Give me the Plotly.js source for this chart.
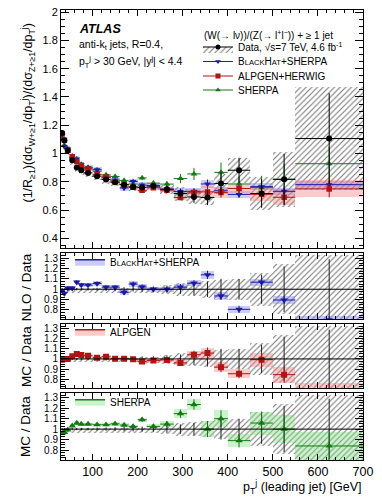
<!DOCTYPE html>
<html><head><meta charset="utf-8">
<script src="https://cdn.plot.ly/plotly-3.0.1.min.js"></script>
<style>html,body{margin:0;padding:0;background:#fff}#chart{width:382px;height:499px}</style>
</head><body><div id="chart"></div>
<script>
// ---- data ----
const binCenter = [32.5,37.5,45,55,65,75,90,110,130,150,170,190,210,235,265,295,325,355,385,425,475,525,625];
const binHalf   = [2.5,2.5,5,5,5,5,10,10,10,10,10,10,10,15,15,15,15,15,15,25,25,25,75];

const dataVal   = [1.146,1.094,1.023,0.953,0.901,0.882,0.863,0.840,0.816,0.797,0.780,0.764,0.760,0.771,0.748,0.717,0.693,0.689,0.788,0.882,0.717,0.818,1.106];
const dataStatRel = [0.01,0.01,0.01,0.01,0.01,0.012,0.012,0.014,0.016,0.018,0.02,0.022,0.025,0.025,0.035,0.045,0.06,0.075,0.1,0.1,0.14,0.22,0.29];
const dataSysUpRel = [0.01,0.01,0.01,0.01,0.01,0.01,0.01,0.01,0.01,0.01,0.01,0.01,0.015,0.02,0.04,0.06,0.07,0.08,0.09,0.1,0.16,0.24,0.33];
const dataSysDnRel = [0.03,0.03,0.035,0.035,0.035,0.035,0.035,0.035,0.035,0.035,0.035,0.035,0.04,0.04,0.05,0.07,0.07,0.08,0.09,0.1,0.16,0.24,0.33];

const bhMain  = [1.129,1.050,1.033,0.963,0.962,0.919,0.898,0.886,0.832,0.813,0.757,0.802,0.777,0.771,0.748,0.731,0.733,0.785,0.737,0.711,0.766,0.733,0.780];
const alpMain = [1.138,1.094,1.023,0.978,0.944,0.916,0.891,0.851,0.834,0.800,0.782,0.762,0.740,0.759,0.741,0.689,0.722,0.729,0.724,0.753,0.712,0.691,0.750];
const shMain  = [1.101,1.061,1.016,0.983,0.953,0.924,0.904,0.875,0.850,0.838,0.810,0.784,0.828,0.791,0.784,0.823,0.856,0.689,0.867,0.785,0.759,0.818,0.928];

const bhRatio  = [0.985,0.960,1.010,1.010,1.068,1.042,1.040,1.055,1.020,1.020,0.970,1.050,1.022,1.000,1.000,1.020,1.058,1.139,0.935,0.806,1.068,0.896,0.705];
const alpRatio = [0.993,1.000,1.000,1.026,1.048,1.038,1.032,1.013,1.022,1.003,1.003,0.997,0.974,0.984,0.990,0.961,1.042,1.058,0.919,0.854,0.993,0.845,0.678];
const shRatio  = [0.961,0.970,0.993,1.032,1.058,1.048,1.048,1.042,1.042,1.051,1.039,1.026,1.090,1.026,1.048,1.148,1.235,1.000,1.100,0.890,1.058,1.000,0.839];

const bhBandRel  = [0.02,0.02,0.02,0.02,0.02,0.02,0.02,0.02,0.02,0.02,0.025,0.025,0.025,0.025,0.025,0.03,0.03,0.04,0.035,0.035,0.035,0.035,0.035];
const alpBandRel = [0.015,0.015,0.015,0.015,0.015,0.015,0.015,0.015,0.015,0.015,0.015,0.015,0.02,0.02,0.02,0.025,0.04,0.055,0.05,0.045,0.07,0.08,0.08];
const shBandRel  = [0.015,0.015,0.015,0.015,0.015,0.015,0.015,0.015,0.015,0.015,0.015,0.015,0.02,0.02,0.025,0.04,0.05,0.077,0.08,0.065,0.11,0.135,0.13];

const xTickVals = [100,200,300,400,500,600,700];

// ---- styling ----
const FONT = 'Liberation Sans, Arial, Helvetica, sans-serif';
const C_BH = '#1a1aa6', C_BH_BAND = 'rgba(120,120,240,0.38)';
const C_AL = '#b01414', C_AL_BAND = 'rgba(245,120,120,0.38)';
const C_SH = '#147814', C_SH_BAND = 'rgba(120,225,120,0.38)';
const HATCH = {shape:'/', fgcolor:'#7a7a7a', bgcolor:'rgba(0,0,0,0)', size:4, solidity:0.28, fillmode:'replace'};
const width = binHalf.map(h => 2*h);

function hatchBars(xa, ya, lo, hi) {
  return {type:'bar', xaxis:xa, yaxis:ya, x:binCenter, width:width, base:lo,
    y:hi.map((v,i)=>v-lo[i]), marker:{color:'rgba(0,0,0,0)', line:{width:0}, pattern:HATCH},
    showlegend:false, hoverinfo:'skip'};
}
function bandBars(xa, ya, val, rel, color) {
  return {type:'bar', xaxis:xa, yaxis:ya, x:binCenter, width:width,
    base:val.map((v,i)=>v*(1-rel[i])), y:val.map((v,i)=>2*v*rel[i]),
    marker:{color:color, line:{width:0}}, showlegend:false, hoverinfo:'skip'};
}
function points(xa, ya, val, errAbs, color, symbol, size) {
  return {type:'scatter', mode:'markers', xaxis:xa, yaxis:ya, x:binCenter, y:val,
    marker:{symbol:symbol, size:size, color:color},
    error_x:{type:'data', array:binHalf, color:color, thickness:1, width:0},
    error_y:{type:'data', array:errAbs, color:color, thickness:1, width:0},
    showlegend:false, hoverinfo:'skip'};
}
const abs = (val, rel) => val.map((v,i)=>v*rel[i]);

const traces = [];
// main panel
traces.push(hatchBars('x','y', dataVal.map((v,i)=>v*(1-dataSysDnRel[i])), dataVal.map((v,i)=>v*(1+dataSysUpRel[i]))));
traces.push(bandBars('x','y', bhMain, bhBandRel, C_BH_BAND));
traces.push(bandBars('x','y', alpMain, alpBandRel, C_AL_BAND));
traces.push(points('x','y', shMain, abs(shMain, shBandRel), C_SH, 'triangle-up', 6));
traces.push(points('x','y', bhMain, abs(bhMain, bhBandRel), C_BH, 'triangle-down', 6));
traces.push(points('x','y', alpMain, abs(alpMain, alpBandRel), C_AL, 'square', 5.5));
traces.push(points('x','y', dataVal, abs(dataVal, dataStatRel), 'black', 'circle', 6));

// ratio panels
const unity = binCenter.map(() => 1);
const ratioPanels = [
  ['x2','y2', bhRatio, bhBandRel, C_BH, C_BH_BAND, 'triangle-down', 6.5],
  ['x3','y3', alpRatio, alpBandRel, C_AL, C_AL_BAND, 'square', 6],
  ['x4','y4', shRatio, shBandRel, C_SH, C_SH_BAND, 'triangle-up', 6.5]
];
ratioPanels.forEach(p => {
  const [xa, ya, r, rel, col, band, sym, sz] = p;
  traces.push(hatchBars(xa, ya, dataSysDnRel.map(d=>1-d), dataSysUpRel.map(u=>1+u)));
  traces.push({type:'bar', xaxis:xa, yaxis:ya, x:binCenter, width:width,
    base:r.map((v,i)=>v-rel[i]), y:rel.map(e=>2*e), marker:{color:band, line:{width:0}},
    showlegend:false, hoverinfo:'skip'});
  traces.push({type:'scatter', mode:'markers', xaxis:xa, yaxis:ya, x:binCenter, y:unity,
    marker:{size:1, color:'rgba(0,0,0,0)'},
    error_y:{type:'data', array:dataStatRel, color:'#222', thickness:1, width:0},
    showlegend:false, hoverinfo:'skip'});
  traces.push(points(xa, ya, r, rel, col, sym, sz));
});

// legend-only entries
const SC = s => '<span style="font-size:7.6px">' + s + '</span>';
traces.push({type:'scatter', x:[null], y:[null], mode:'lines+markers', legend:'legend',
  fill:'toself', fillcolor:'rgba(0,0,0,0)', fillpattern:HATCH,
  line:{color:'black', width:1}, marker:{symbol:'circle', size:5, color:'black'},
  name:'Data, √s=7 TeV, 4.6 fb<sup>-1</sup>'});
traces.push({type:'scatter', x:[null], y:[null], mode:'lines+markers', legend:'legend2',
  line:{color:C_BH, width:1}, marker:{symbol:'triangle-down', size:5, color:C_BH},
  name:'B' + SC('LACK') + 'H' + SC('AT') + '+SHERPA'});
traces.push({type:'scatter', x:[null], y:[null], mode:'lines+markers', legend:'legend3',
  line:{color:C_AL, width:1}, marker:{symbol:'square', size:5, color:C_AL},
  name:'ALPGEN+HERWIG'});
traces.push({type:'scatter', x:[null], y:[null], mode:'lines+markers', legend:'legend4',
  line:{color:C_SH, width:1}, marker:{symbol:'triangle-up', size:5, color:C_SH},
  name:'SHERPA'});
traces.push({type:'scatter', x:[null], y:[null], mode:'lines', legend:'legend5',
  fill:'toself', fillcolor:C_BH_BAND, line:{color:C_BH, width:1.5},
  name:'B' + SC('LACK') + 'H' + SC('AT') + '+SHERPA'});
traces.push({type:'scatter', x:[null], y:[null], mode:'lines', legend:'legend6',
  fill:'toself', fillcolor:C_AL_BAND, line:{color:C_AL, width:1.5}, name:'ALPGEN'});
traces.push({type:'scatter', x:[null], y:[null], mode:'lines', legend:'legend7',
  fill:'toself', fillcolor:C_SH_BAND, line:{color:C_SH, width:1.5}, name:'SHERPA'});

// ---- layout ----
function xAxis(anchor, showLabels) {
  return {anchor:anchor, domain:[0,1], range:[30,700], tickvals:xTickVals, showticklabels:showLabels,
    ticks:'inside', ticklen:6, tickwidth:1, tickcolor:'black', mirror:'allticks', showline:true,
    linecolor:'black', linewidth:1, showgrid:false, zeroline:false,
    tickfont:{family:FONT, size:12.5, color:'black'},
    minor:{ticks:'inside', ticklen:3, dtick:20, tickcolor:'black', showgrid:false},
    matches: anchor === 'y' ? undefined : 'x'};
}
function yAxis(anchor, domain, range, dtick, fs, minorDtick) {
  return {anchor:anchor, domain:domain, range:range, dtick:dtick, tick0:0,
    ticks:'inside', ticklen:8, tickwidth:1, tickcolor:'black', mirror:'allticks', showline:true,
    linecolor:'black', linewidth:1, showgrid:false, zeroline:false,
    tickfont:{family:FONT, size:fs, color:'black'},
    minor:{ticks:'inside', ticklen:4, dtick:minorDtick, tickcolor:'black', showgrid:false}};
}
function legendAt(x, y) {
  return {x:x, y:y, xanchor:'left', yanchor:'middle', bgcolor:'rgba(0,0,0,0)', borderwidth:0,
    font:{family:FONT, size:10, color:'black'}, itemwidth:30};
}
function ann(text, x, y, size, opts) {
  return Object.assign({text:text, xref:'paper', yref:'paper', x:x, y:y, showarrow:false,
    xanchor:'left', yanchor:'middle', font:{family:FONT, size:size, color:'black'}}, opts||{});
}

const layout = {
  width:382, height:499, margin:{l:61, r:19, t:10, b:39},
  paper_bgcolor:'white', plot_bgcolor:'rgba(0,0,0,0)',
  barmode:'overlay', bargap:0, showlegend:true,
  font:{family:FONT, color:'black'},
  xaxis:xAxis('y', false), xaxis2:xAxis('y2', false), xaxis3:xAxis('y3', false), xaxis4:xAxis('y4', true),
  yaxis:yAxis('x', [0.472,1], [0.335,2.015], 0.2, 11, 0.05),
  yaxis2:yAxis('x2', [0.3127,0.4589], [0.71,1.345], 0.1, 10, 0.025),
  yaxis3:yAxis('x3', [0.1593,0.3022], [0.71,1.345], 0.1, 10, 0.025),
  yaxis4:yAxis('x4', [0,0.1489], [0.705,1.345], 0.1, 10, 0.025),
  legend:legendAt(0.4536, 0.9178),
  legend2:legendAt(0.4536, 0.8856),
  legend3:legendAt(0.4536, 0.8533),
  legend4:legendAt(0.4536, 0.8222),
  legend5:legendAt(0.03, 0.4407),
  legend6:legendAt(0.03, 0.2851),
  legend7:legendAt(0.03, 0.1296),
  shapes:[2,3,4].map(k => ({type:'line', xref:'paper', yref:'y'+k, x0:0, x1:1, y0:1, y1:1,
    line:{color:'black', width:1}, layer:'above'})),
  annotations:[
    ann('<b><i>ATLAS</i></b>', 0.053, 0.958, 12.5),
    ann('anti-k<sub>t</sub> jets, R=0.4,', 0.053, 0.922, 10.5),
    ann('p<sub>T</sub><sup>j</sup> &gt; 30 GeV, |y<sup>j</sup>| &lt; 4.4', 0.053, 0.885, 10.5),
    ann('(W(→ lν))/(Z(→ l<sup>+</sup>l<sup>−</sup>)) + ≥ 1 jet', 0.468, 0.944, 10),
    ann('(1/R<sub>≥1</sub>)(dσ<sub>W+≥1</sub>/dp<sub>T</sub><sup>j</sup>)/(dσ<sub>Z+≥1</sub>/dp<sub>T</sub><sup>j</sup>)',
        -0.108, 0.773, 12.5, {xanchor:'center', textangle:-90}),
    ann('NLO / Data', -0.116, 0.384, 13.5, {xanchor:'center', textangle:-90}),
    ann('MC / Data', -0.116, 0.231, 13.5, {xanchor:'center', textangle:-90}),
    ann('MC / Data', -0.116, 0.0756, 13.5, {xanchor:'center', textangle:-90}),
    ann('p<sub>T</sub><sup>j</sup> (leading jet) [GeV]', 1.0, -0.06, 12.5, {xanchor:'right'})
  ]
};

Plotly.newPlot('chart', traces, layout, {staticPlot:true, displayModeBar:false});
</script></body></html>
